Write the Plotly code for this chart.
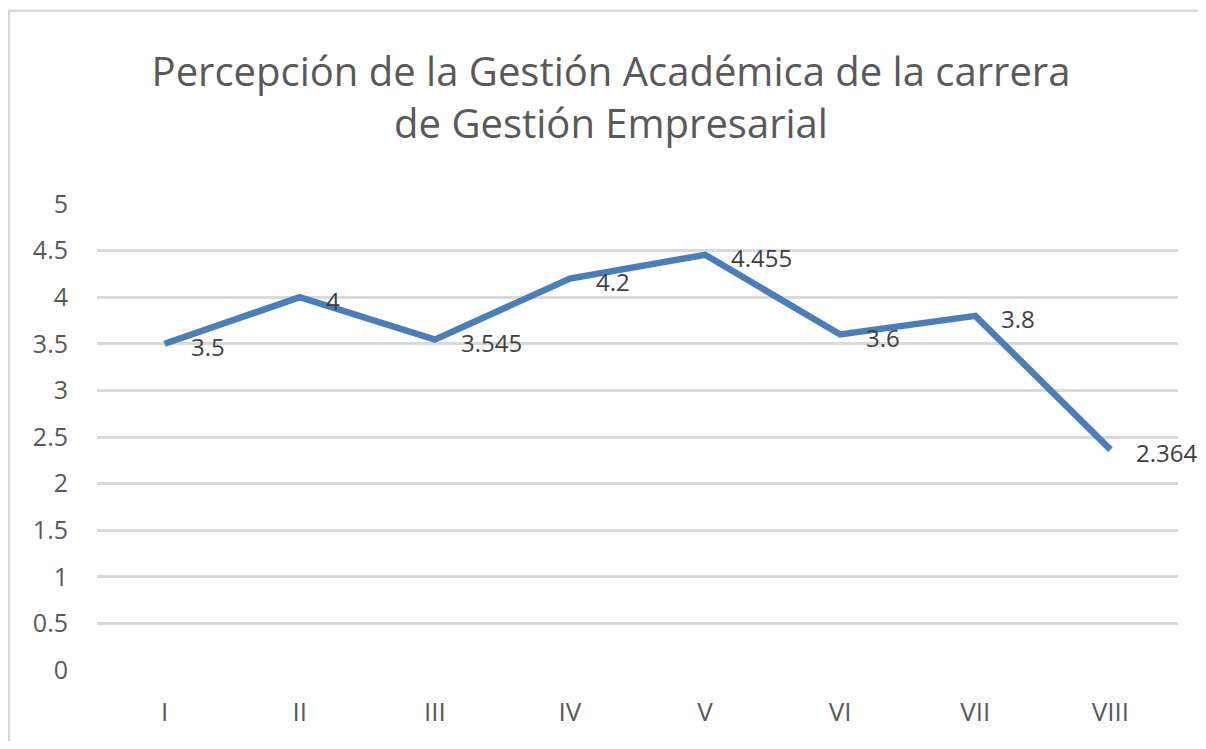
import plotly.graph_objects as go

categories = ["I", "II", "III", "IV", "V", "VI", "VII", "VIII"]
values = [3.5, 4, 3.545, 4.2, 4.455, 3.6, 3.8, 2.364]
labels = ["3.5", "4", "3.545", "4.2", "4.455", "3.6", "3.8", "2.364"]
y_ticks = [0, 0.5, 1, 1.5, 2, 2.5, 3, 3.5, 4, 4.5, 5]
y_tick_text = ["0", "0.5", "1", "1.5", "2", "2.5", "3", "3.5", "4", "4.5", "5"]
title_text = "Percepción de la Gestión Académica de la carrera<br>de Gestión Empresarial"

FONT = "Open Sans"
GREY = "#595959"

# page body has an 8px margin; keep the figure inside the 1206x749 window
W, H = 1190, 733
L, R, T, B = 89, 20, 196, 69
PW, PH = W - L - R, H - T - B

fig = go.Figure()
fig.add_trace(go.Scatter(
    x=categories, y=values, mode="lines",
    line=dict(color="#4a7ebb", width=6.5),
    hoverinfo="skip", showlegend=False,
))

for c, v, t in zip(categories, values, labels):
    fig.add_annotation(x=c, y=v, text=t, showarrow=False,
                       xanchor="left", yanchor="middle", xshift=24, yshift=-3,
                       font=dict(family=FONT, size=24, color="#404040"))

fig.add_shape(type="rect", xref="paper", yref="paper",
              x0=(1 - L) / PW, x1=(W + 6 - L) / PW,
              y0=-(B + 6) / PH, y1=(H - B - 2) / PH,
              line=dict(color="#d9d9d9", width=2.5), fillcolor="rgba(0,0,0,0)", layer="below")

fig.update_layout(
    width=W, height=H,
    margin=dict(l=L, r=R, t=T, b=B),
    paper_bgcolor="white", plot_bgcolor="white",
    title=dict(text=title_text, x=(603) / W, xanchor="center", y=0.894, yanchor="middle",
               font=dict(family=FONT, size=40, color=GREY)),
    xaxis=dict(type="category", range=[-0.5, 7.5], showgrid=False, zeroline=False,
               showline=False, ticks="", ticklabelstandoff=24,
               tickfont=dict(family=FONT, size=26, color=GREY)),
    yaxis=dict(range=[0, 5], tickvals=y_ticks, ticktext=y_tick_text,
               showgrid=True, gridcolor="#d9d9d9", gridwidth=2.5,
               zeroline=False, showline=False, ticks="", ticklabelstandoff=28,
               tickfont=dict(family=FONT, size=25, color=GREY)),
)

fig.write_html("out.html")
